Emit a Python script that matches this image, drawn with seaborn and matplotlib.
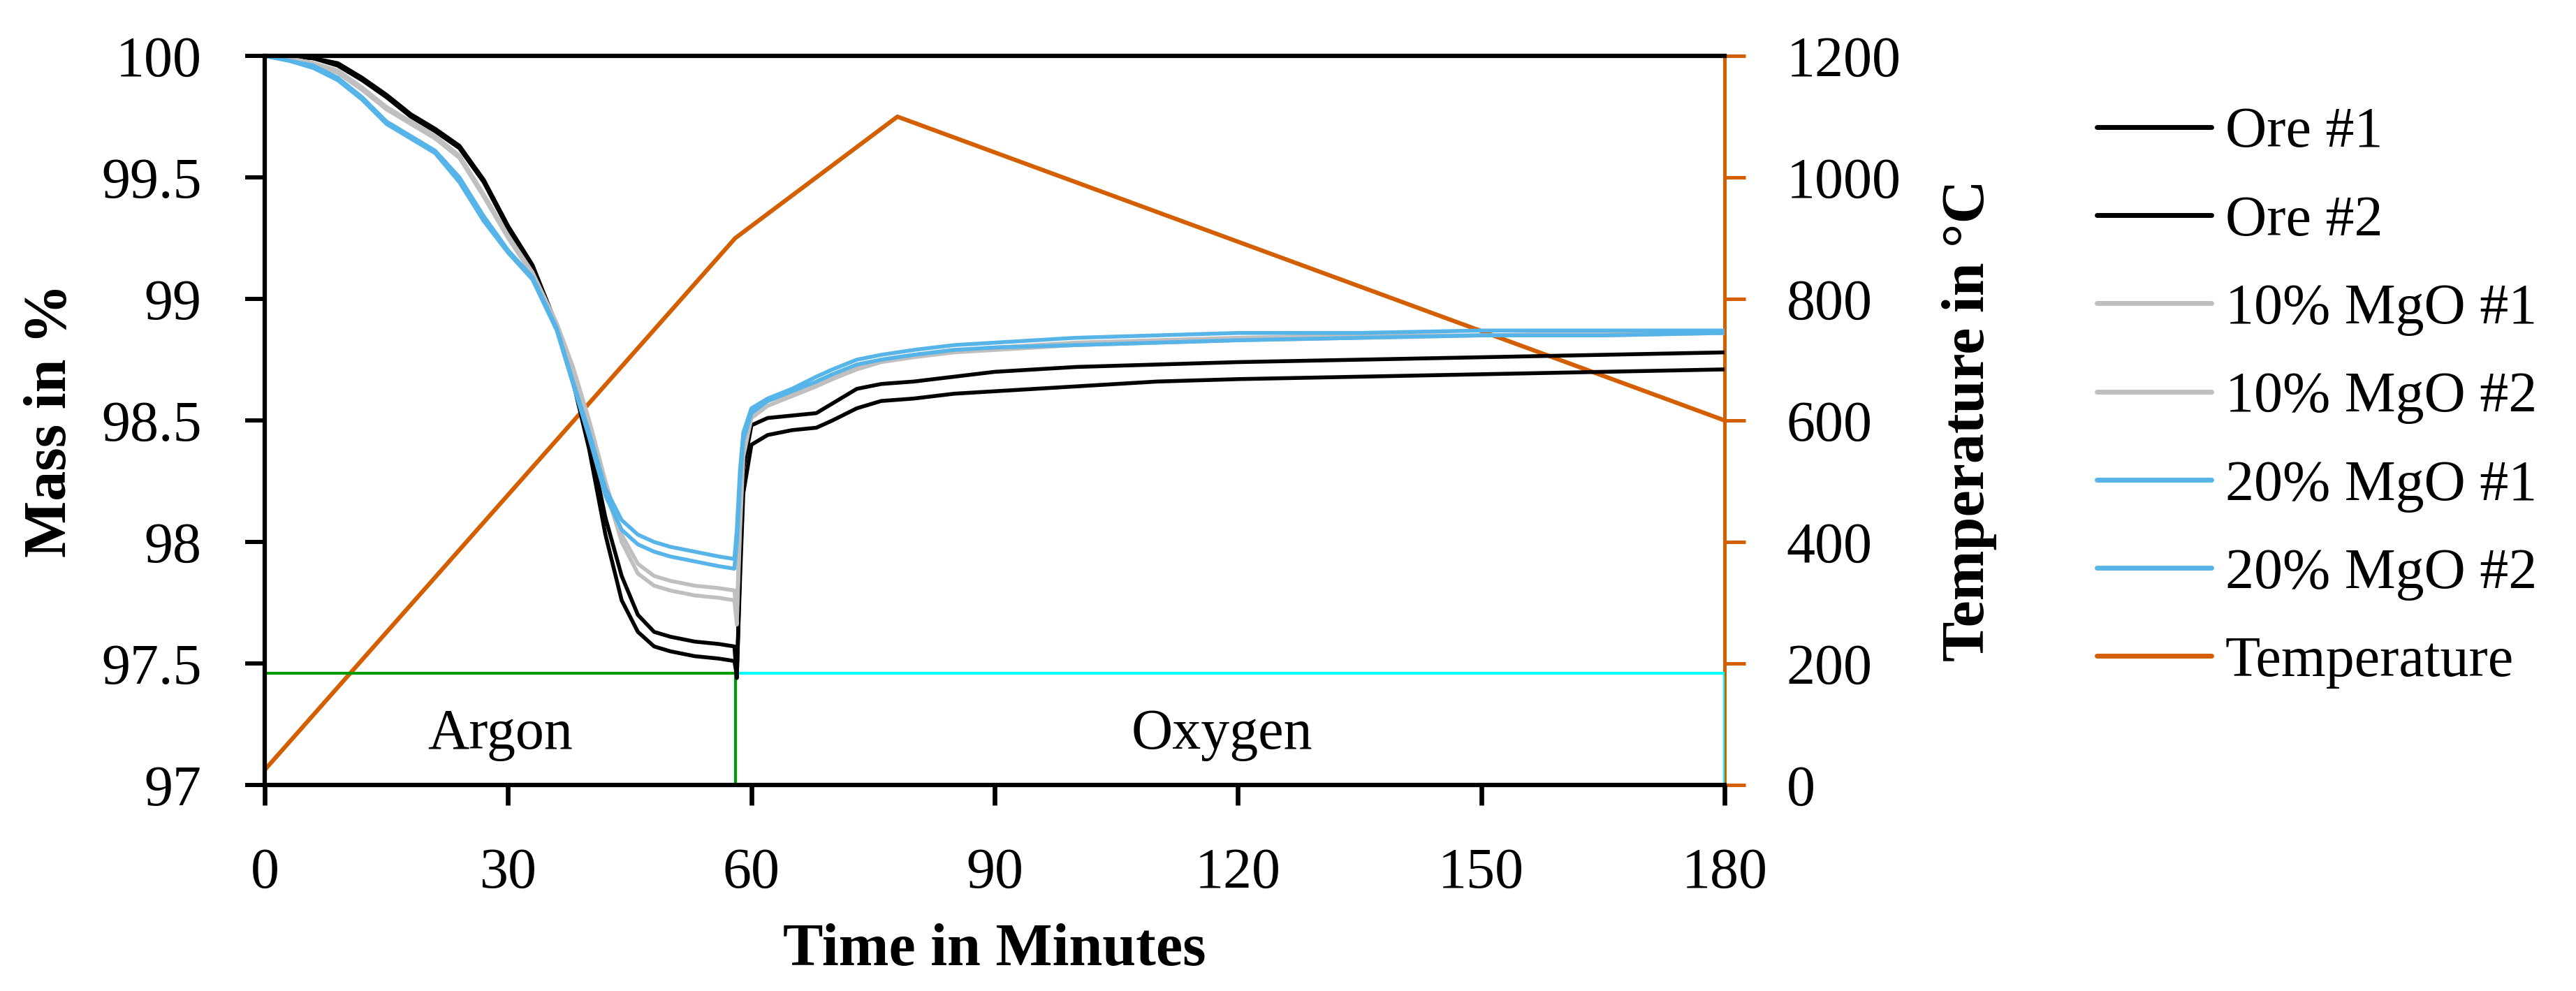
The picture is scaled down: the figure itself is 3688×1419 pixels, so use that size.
import numpy as np
import pandas as pd
import matplotlib
matplotlib.use("Agg")
import matplotlib.pyplot as plt
from matplotlib.lines import Line2D
from matplotlib.ticker import FuncFormatter
import seaborn as sns

# --- data ---
time_min = [0, 3, 6, 9, 12, 15, 18, 21, 24, 27, 30, 33, 36, 38, 40, 42, 44, 46, 48, 50,
            53, 56, 57.9, 58.2, 58.6, 59, 60, 62, 65, 68, 70, 73, 76, 80, 85, 90,
            100, 110, 120, 135, 150, 165, 180]

ore_1 = [100.00, 100.00, 99.99, 99.97, 99.91, 99.84, 99.76, 99.70, 99.63, 99.49, 99.30,
         99.14, 98.89, 98.68, 98.42, 98.10, 97.86, 97.70, 97.63, 97.61, 97.59, 97.58,
         97.57, 97.44, 97.90, 98.30, 98.48, 98.51, 98.52, 98.53, 98.57, 98.63, 98.65,
         98.66, 98.68, 98.70, 98.72, 98.73, 98.74, 98.75, 98.76, 98.77, 98.78]
ore_2 = [100.00, 100.00, 99.99, 99.96, 99.90, 99.83, 99.75, 99.69, 99.62, 99.48, 99.29,
         99.13, 98.88, 98.66, 98.38, 98.03, 97.76, 97.63, 97.57, 97.55, 97.53, 97.52,
         97.51, 97.45, 97.85, 98.20, 98.40, 98.44, 98.46, 98.47, 98.50, 98.55, 98.58,
         98.59, 98.61, 98.62, 98.64, 98.66, 98.67, 98.68, 98.69, 98.70, 98.71]
mgo10_1 = [100.00, 99.99, 99.97, 99.94, 99.87, 99.79, 99.73, 99.67, 99.59, 99.43, 99.26,
           99.11, 98.90, 98.72, 98.50, 98.25, 98.03, 97.91, 97.86, 97.84, 97.82, 97.81,
           97.80, 97.70, 98.10, 98.40, 98.53, 98.58, 98.61, 98.65, 98.68, 98.72, 98.75,
           98.77, 98.79, 98.80, 98.82, 98.83, 98.84, 98.85, 98.85, 98.86, 98.86]
mgo10_2 = [100.00, 99.99, 99.97, 99.93, 99.86, 99.78, 99.72, 99.66, 99.58, 99.42, 99.25,
           99.10, 98.89, 98.71, 98.48, 98.22, 98.00, 97.87, 97.82, 97.80, 97.78, 97.77,
           97.76, 97.66, 98.05, 98.35, 98.51, 98.56, 98.60, 98.64, 98.67, 98.71, 98.74,
           98.76, 98.78, 98.79, 98.81, 98.82, 98.83, 98.84, 98.85, 98.85, 98.86]
mgo20_1 = [100.00, 99.98, 99.96, 99.91, 99.83, 99.73, 99.67, 99.61, 99.50, 99.34, 99.20,
           99.09, 98.88, 98.66, 98.45, 98.22, 98.09, 98.03, 98.00, 97.98, 97.96, 97.94,
           97.93, 98.05, 98.30, 98.45, 98.55, 98.59, 98.63, 98.68, 98.71, 98.75, 98.77,
           98.79, 98.81, 98.82, 98.84, 98.85, 98.86, 98.86, 98.87, 98.87, 98.87]
mgo20_2 = [100.00, 99.98, 99.95, 99.90, 99.82, 99.72, 99.66, 99.60, 99.48, 99.32, 99.19,
           99.08, 98.87, 98.65, 98.43, 98.19, 98.05, 97.99, 97.96, 97.94, 97.92, 97.90,
           97.89, 98.00, 98.25, 98.42, 98.53, 98.58, 98.62, 98.66, 98.69, 98.73, 98.75,
           98.77, 98.79, 98.80, 98.81, 98.82, 98.83, 98.84, 98.85, 98.85, 98.86]

series_names = ["Ore #1", "Ore #2", "10% MgO #1", "10% MgO #2", "20% MgO #1", "20% MgO #2"]
series_colors = ["#000000", "#000000", "#BFBFBF", "#BFBFBF", "#56B4E9", "#56B4E9"]

temp_time = [0, 58, 78, 180]
temp_values = [25, 900, 1100, 600]

gas_level = 97.46
argon_time = [0, 58, 58]
argon_level = [gas_level, gas_level, 97]
oxygen_time = [58, 58, 180, 180]
oxygen_level = [97, gas_level, gas_level, 97]

# --- style ---
sns.set_style("ticks")
plt.rcParams["font.family"] = ["Liberation Serif", "DejaVu Serif"]
plt.rcParams["text.color"] = "black"
plt.rcParams["axes.labelcolor"] = "black"
plt.rcParams["xtick.color"] = "black"
plt.rcParams["ytick.color"] = "black"

tick_fs = 59
label_fs = 62
orange = "#D35F00"

df = pd.DataFrame({
    "Time": np.tile(time_min, len(series_names)),
    "Mass": np.concatenate([ore_1, ore_2, mgo10_1, mgo10_2, mgo20_1, mgo20_2]),
    "Sample": np.repeat(series_names, len(time_min)),
})
palette = dict(zip(series_names, series_colors))

fig = plt.figure(figsize=(36.88, 14.19), dpi=100)
ax = fig.add_axes([0.1028, 0.2079, 0.5667, 0.7357])
ax2 = ax.twinx()

# temperature on the secondary axis, drawn behind the mass curves
sns.lineplot(x=temp_time, y=temp_values, ax=ax2, color=orange, linewidth=4.4)
ax.set_zorder(ax2.get_zorder() + 1)
ax.patch.set_visible(False)

# gas atmosphere markers
ax.plot(oxygen_time, oxygen_level, color="#00FFFF", linewidth=3.0)
ax.plot(argon_time, argon_level, color="#009900", linewidth=3.0)

sns.lineplot(data=df, x="Time", y="Mass", hue="Sample", palette=palette,
             hue_order=series_names, ax=ax, linewidth=4.0, legend=False, sort=False)

ax.text(29, 97.15, "Argon", ha="center", va="baseline", fontsize=tick_fs, color="black")
ax.text(118, 97.15, "Oxygen", ha="center", va="baseline", fontsize=tick_fs, color="black")

ax.set_xlim(0, 180)
ax.set_ylim(97, 100)
ax.set_xticks(range(0, 181, 30))
ax.set_yticks(np.arange(97, 100.01, 0.5))
ax.yaxis.set_major_formatter(FuncFormatter(lambda v, p: f"{v:g}"))
ax2.set_ylim(0, 1200)
ax2.set_yticks(range(0, 1201, 200))

ax.set_xlabel("Time in Minutes", fontsize=label_fs, fontweight="bold", labelpad=24)
ax.set_ylabel("Mass in %", fontsize=label_fs, fontweight="bold", labelpad=23)
ax2.set_ylabel("Temperature in °C", fontsize=label_fs, fontweight="bold", labelpad=42)

ax.tick_params(axis="x", direction="out", length=21, width=4.8, pad=43,
               labelsize=tick_fs, colors="black")
ax.tick_params(axis="y", direction="out", length=20, width=4.3, pad=45,
               labelsize=tick_fs, colors="black")
ax2.tick_params(axis="y", direction="out", length=21.6, width=3.6, pad=42,
                labelsize=tick_fs, color=orange, labelcolor="black")

for side in ["left", "bottom", "top"]:
    ax.spines[side].set_linewidth(4.5)
    ax.spines[side].set_color("black")
ax.spines["right"].set_visible(False)
for side in ["left", "bottom", "top"]:
    ax2.spines[side].set_visible(False)
ax2.spines["right"].set_color(orange)
ax2.spines["right"].set_linewidth(3.6)

handles = [Line2D([0], [0], color=c, linewidth=5) for c in series_colors]
handles.append(Line2D([0], [0], color=orange, linewidth=5))
labels = series_names + ["Temperature"]
fig.legend(handles, labels, loc="center left", bbox_to_anchor=(0.814, 0.5987),
           frameon=False, fontsize=tick_fs, handlelength=2.0, handletextpad=0.24,
           labelspacing=0.62, borderpad=0, borderaxespad=0, labelcolor="black")

fig.savefig("out.png", dpi=100)
plt.close(fig)
